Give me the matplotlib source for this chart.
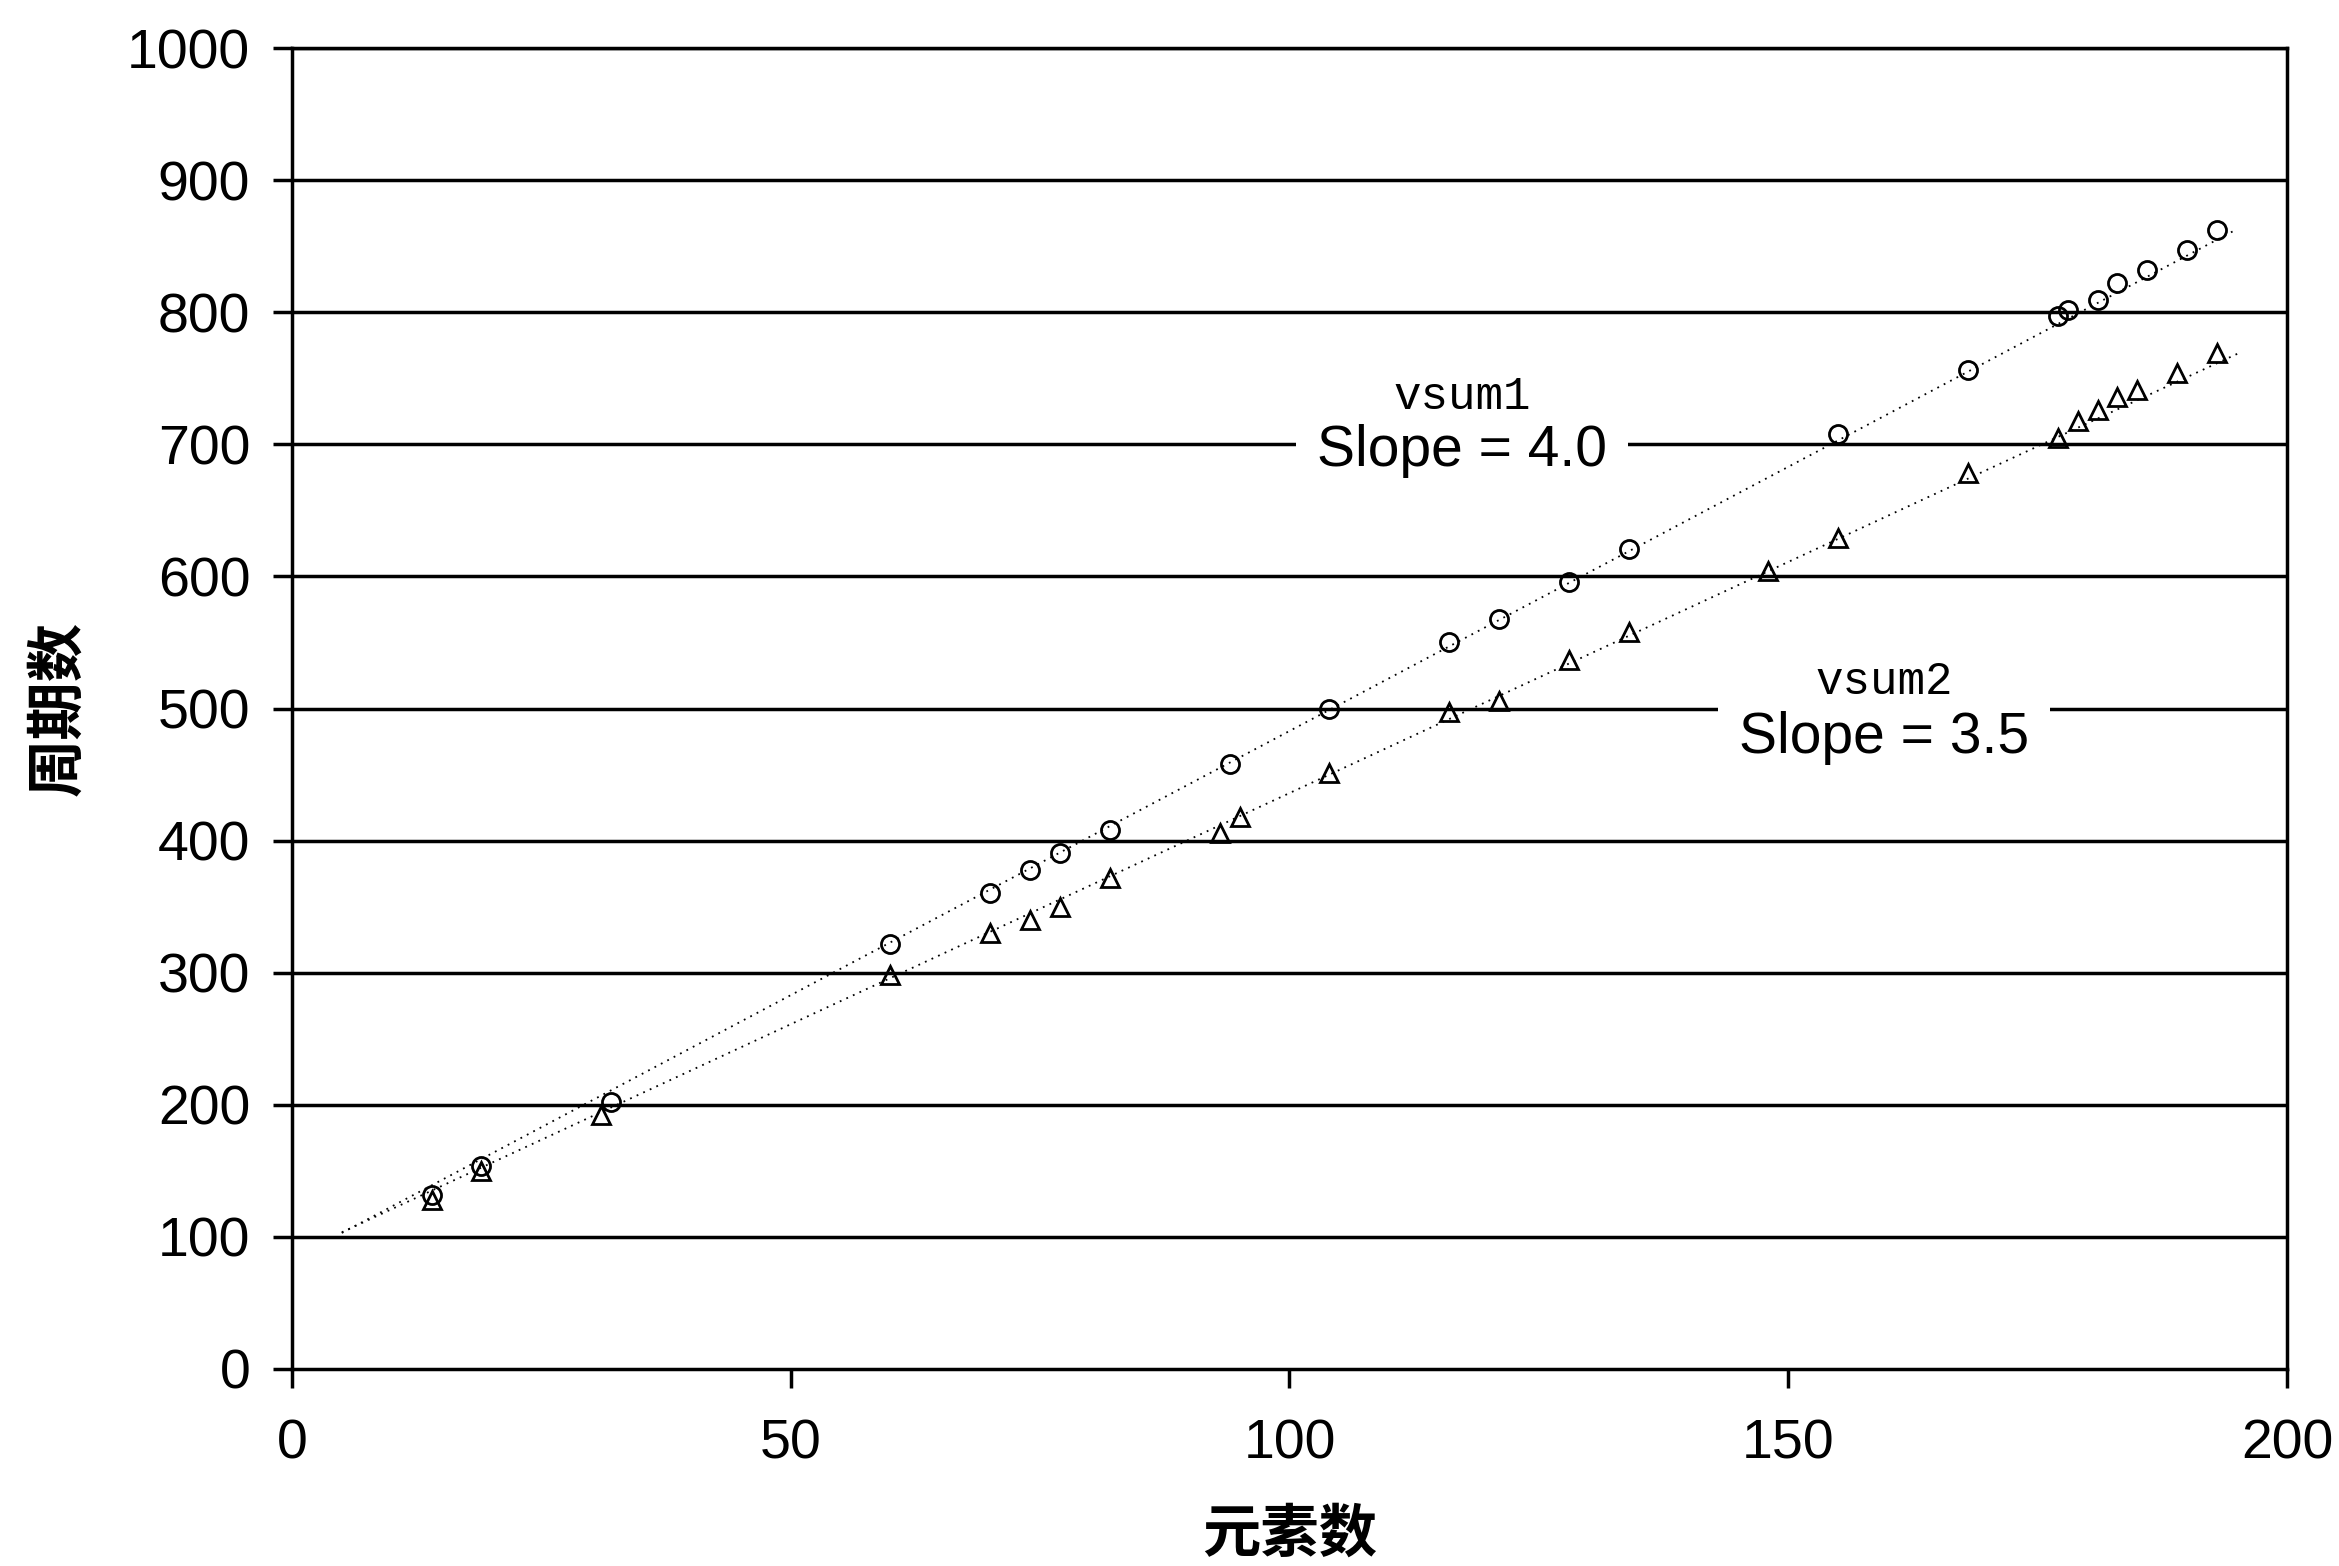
import matplotlib
matplotlib.use("Agg")
import matplotlib.pyplot as plt
import numpy as np

plt.rcParams['font.family'] = ['Liberation Sans', 'Noto Sans CJK SC', 'DejaVu Sans']

# ---- data ----
vsum1_x = [14, 19, 32, 60, 70, 74, 77, 82, 94, 104, 116, 121, 128, 134, 155, 168, 177, 178, 181, 183, 186, 190, 193]
vsum1_y = [132, 154, 202, 322, 360, 378, 391, 408, 458, 500, 550, 568, 596, 621, 708, 756, 797, 802, 809, 822, 832, 847, 862]

vsum2_x = [14, 19, 31, 60, 70, 74, 77, 82, 93, 95, 104, 116, 121, 128, 134, 148, 155, 168, 177, 179, 181, 183, 185, 189, 193]
vsum2_y = [128, 150, 192, 298, 330, 340, 350, 372, 406, 418, 451, 497, 506, 537, 558, 604, 629, 678, 705, 718, 726, 736, 741, 754, 769]

fit_slopes = [4.0, 3.5]
fit_intercepts = [83, 86]
fit_range = [5, 195]

x_ticks = [0, 50, 100, 150, 200]
y_ticks = [0, 100, 200, 300, 400, 500, 600, 700, 800, 900, 1000]

x_label = "元素数"
y_label = "周期数"
series_names = ["vsum1", "vsum2"]
slope_labels = ["Slope = 4.0", "Slope = 3.5"]

# ---- figure ----
fig = plt.figure(figsize=(23.39, 15.66), dpi=100)
ax = fig.add_axes([0.1248, 0.1258, 0.853, 0.8435])

ax.set_xlim(0, 200)
ax.set_ylim(0, 1000)

for yv in y_ticks[1:]:
    ax.axhline(yv, color='black', lw=2.5, zorder=1)

xs = np.array(fit_range, dtype=float)
for s, b in zip(fit_slopes, fit_intercepts):
    ax.plot(xs, s * xs + b, color='black', lw=1.3, ls=(0, (1, 3)), zorder=2)

ax.plot(vsum1_x, vsum1_y, ls='none', marker='o', ms=13, mfc='none', mec='black', mew=2.0, zorder=3)
ax.plot(vsum2_x, vsum2_y, ls='none', marker='^', ms=13, mfc='none', mec='black', mew=2.0, zorder=3)

# annotations
ax.text(117.3, 736, series_names[0], family='Liberation Mono', fontsize=33,
        ha='center', va='center', zorder=6)
ax.text(117.3, 695, slope_labels[0], fontsize=41,
        ha='center', va='center', zorder=5,
        bbox=dict(facecolor='white', edgecolor='none', pad=15))
ax.text(159.6, 520, series_names[1], family='Liberation Mono', fontsize=33,
        ha='center', va='center', zorder=6)
ax.text(159.6, 478, slope_labels[1], fontsize=41,
        ha='center', va='center', zorder=5,
        bbox=dict(facecolor='white', edgecolor='none', pad=15))

ax.set_xticks(x_ticks)
ax.set_yticks(y_ticks)
ax.tick_params(axis='both', direction='out', length=14, width=2.5, labelsize=40)
ax.tick_params(axis='y', pad=16)
ax.tick_params(axis='x', pad=22)

for sp in ax.spines.values():
    sp.set_linewidth(2.5)
    sp.set_color('black')

ax.set_xlabel(x_label, family=['Noto Sans CJK SC'], fontsize=42, fontweight='bold', labelpad=24)
ax.set_ylabel(y_label, family=['Noto Sans CJK SC'], fontsize=42, fontweight='bold', labelpad=28)

fig.savefig("out.png", dpi=100, facecolor='white')
